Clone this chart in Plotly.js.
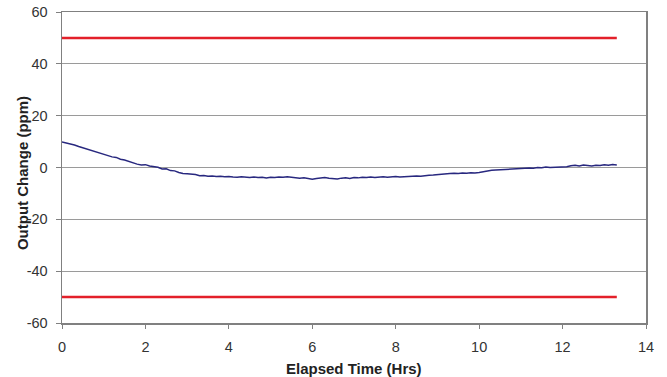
<!DOCTYPE html>
<html>
<head>
<meta charset="utf-8">
<script src="https://cdn.plot.ly/plotly-3.0.1.min.js"></script>
<style>html,body{margin:0;padding:0;background:#fff;}#chart{width:667px;height:377px;}</style>
</head>
<body>
<div id="chart"></div>
<script>
const hours = [0.0,0.1,0.2,0.3,0.4,0.5,0.6,0.7,0.8,0.9,
  1.0,1.1,1.2,1.3,1.4,1.5,1.6,1.7,1.8,1.9,
  2.0,2.1,2.2,2.3,2.4,2.5,2.6,2.7,2.8,2.9,
  3.0,3.1,3.2,3.3,3.4,3.5,3.6,3.7,3.8,3.9,
  4.0,4.1,4.2,4.3,4.4,4.5,4.6,4.7,4.8,4.9,
  5.0,5.1,5.2,5.3,5.4,5.5,5.6,5.7,5.8,5.9,
  6.0,6.1,6.2,6.3,6.4,6.5,6.6,6.7,6.8,6.9,
  7.0,7.1,7.2,7.3,7.4,7.5,7.6,7.7,7.8,7.9,
  8.0,8.1,8.2,8.3,8.4,8.5,8.6,8.7,8.8,8.9,
  9.0,9.1,9.2,9.3,9.4,9.5,9.6,9.7,9.8,9.9,
  10.0,10.1,10.2,10.3,10.4,10.5,10.6,10.7,10.8,10.9,
  11.0,11.1,11.2,11.3,11.4,11.5,11.6,11.7,11.8,11.9,
  12.0,12.1,12.2,12.3,12.4,12.5,12.6,12.7,12.8,12.9,
  13.0,13.1,13.2,13.3];
const outputChange = [9.8,9.5,9.0,8.7,8.1,7.6,7.1,6.6,6.0,5.4,
  5.0,4.7,4.1,3.9,3.2,2.9,2.4,1.6,1.3,1.0,
  1.1,0.6,0.4,0.1,-0.6,-0.5,-1.2,-1.3,-1.9,-2.3,
  -2.4,-2.5,-2.7,-3.2,-3.1,-3.4,-3.3,-3.5,-3.4,-3.6,
  -3.5,-3.7,-3.8,-3.6,-3.8,-3.9,-3.7,-3.9,-3.8,-4.0,
  -3.8,-3.9,-3.7,-3.8,-3.6,-3.8,-3.9,-4.1,-4.0,-4.3,
  -4.5,-4.2,-4.1,-3.9,-4.1,-4.2,-4.4,-4.1,-4.0,-4.2,
  -3.9,-4.0,-3.8,-3.9,-3.7,-3.9,-3.8,-3.6,-3.8,-3.7,
  -3.5,-3.7,-3.6,-3.4,-3.5,-3.3,-3.4,-3.1,-3.0,-2.9,
  -2.7,-2.5,-2.4,-2.3,-2.2,-2.3,-2.1,-2.2,-2.0,-2.1,
  -1.9,-1.6,-1.2,-1.1,-1.0,-0.9,-0.7,-0.8,-0.5,-0.4,
  -0.5,-0.3,-0.2,-0.3,0.0,-0.1,0.2,0.0,0.1,0.3,
  0.4,0.3,0.7,0.9,0.6,1.0,0.8,0.6,0.9,0.8,
  1.1,0.9,1.2,1.0];
const limitHours = [0, 13.3];
const upperLimit = [50, 50];
const lowerLimit = [-50, -50];
const xTicks = [0,2,4,6,8,10,12,14];
const yTicks = [-60,-40,-20,0,20,40,60];
const yTickText = ['-60','-40','-20','0','20','40','60'];

const traces = [
  {x: limitHours, y: upperLimit, mode: 'lines', line: {color: '#e3202a', width: 2.5}, hoverinfo: 'skip'},
  {x: limitHours, y: lowerLimit, mode: 'lines', line: {color: '#e3202a', width: 2.5}, hoverinfo: 'skip'},
  {x: hours, y: outputChange, mode: 'lines', line: {color: '#28287f', width: 1.5}}
];
const fam = 'Liberation Sans, Arial, sans-serif';
const tickFont = {family: fam, size: 14.5, color: '#333'};
const layout = {
  width: 667, height: 377,
  margin: {l: 62, r: 21, t: 12, b: 54},
  paper_bgcolor: '#fff', plot_bgcolor: '#fff',
  showlegend: false,
  xaxis: {
    range: [0, 14], tickvals: xTicks, ticks: 'outside', ticklen: 4, tickcolor: '#808080',
    showgrid: false, zeroline: false, showline: true, linecolor: '#808080', linewidth: 1.5, mirror: true,
    tickfont: tickFont, ticklabelstandoff: 6
  },
  yaxis: {
    range: [-60, 60], tickvals: yTicks, ticktext: yTickText, ticks: 'outside', ticklen: 5, tickcolor: '#808080',
    showgrid: true, gridcolor: '#9a9a9a', gridwidth: 1, zeroline: false,
    showline: true, linecolor: '#808080', linewidth: 1.5, mirror: true,
    tickfont: tickFont, ticklabelstandoff: 5
  },
  annotations: [{
    text: '<b>Output Change (ppm)</b>', textangle: -90, xref: 'paper', yref: 'paper',
    x: -0.0685, y: 0.482, xanchor: 'center', yanchor: 'middle', showarrow: false,
    font: {family: fam, size: 15, color: '#222'}
  }, {
    text: '<b>Elapsed Time (Hrs)</b>', xref: 'paper', yref: 'paper',
    x: 0.5, y: -0.147, xanchor: 'center', yanchor: 'middle', showarrow: false,
    font: {family: fam, size: 15, color: '#222'}
  }]
};
Plotly.newPlot('chart', traces, layout, {displayModeBar: false, staticPlot: true});
</script>
</body>
</html>
